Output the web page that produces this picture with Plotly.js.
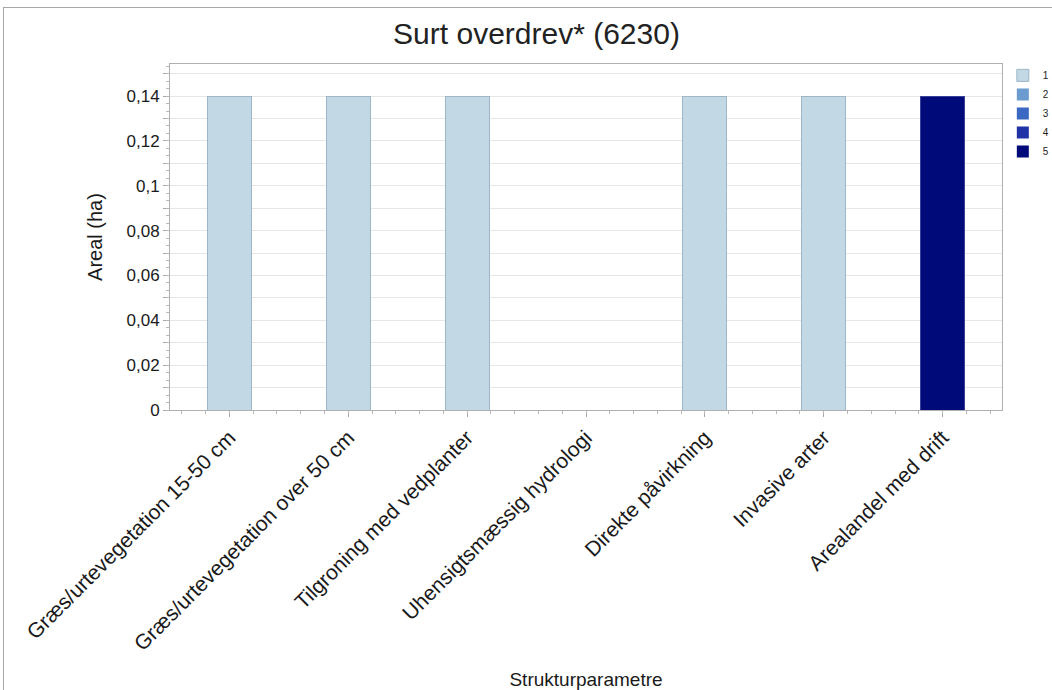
<!DOCTYPE html>
<html>
<head>
<meta charset="utf-8">
<script src="https://cdn.plot.ly/plotly-3.0.1.min.js"></script>
<style>
    body { margin: 0; background: #fff; }
    #chart { width: 1052px; height: 690px; }
    #frame { position: absolute; left: 3px; top: 7px; width: 1060px; height: 700px;
             border-left: 1px solid #a8a8a8; border-top: 1px solid #a8a8a8; pointer-events: none; }
</style>
</head>
<body>
<div id="chart"></div>
<div id="frame"></div>
<script>
const categories = ['Græs/urtevegetation 15-50 cm', 'Græs/urtevegetation over 50 cm', 'Tilgroning med vedplanter',
    'Uhensigtsmæssig hydrologi', 'Direkte påvirkning', 'Invasive arter', 'Arealandel med drift'];
const seriesNames = ['1', '2', '3', '4', '5'];
const s1 = [0.14, 0.14, 0.14, 0, 0.14, 0.14, 0];
const s2 = [0, 0, 0, 0, 0, 0, 0];
const s3 = [0, 0, 0, 0, 0, 0, 0];
const s4 = [0, 0, 0, 0, 0, 0, 0];
const s5 = [0, 0, 0, 0, 0, 0, 0.14];

const fills = ['#c3d8e5', '#6b9bcf', '#3b68c2', '#1f33a6', '#000a78'];
const edges = ['#9db6c8', '#5a88bb', '#2f58ad', '#192b8f', '#3a3f98'];

var CHART = document.getElementById('chart');

var traces = [s1, s2, s3, s4, s5].map(function(vals, i){
    return {
        x: categories,
        y: vals,
        type: 'bar',
        name: seriesNames[i],
        marker: {
            color: fills[i],
            // no outline on empty segments, otherwise they show as a line on top of the stack
            line: {color: edges[i], width: vals.map(function(v){ return v ? 1 : 0; })},
        },
        hoverinfo: 'x+y+name',
    };
});

// empty trace so the overlay axes with the small ticks get drawn
traces.push({x: [], y: [], type: 'scatter', xaxis: 'x2', yaxis: 'y2', showlegend: false, hoverinfo: 'skip'});

var layout = {
    barmode: 'stack',
    bargap: 0.63,
    separators: ',.',
    width: 1052,
    height: 690,
    paper_bgcolor: '#fff',
    plot_bgcolor: '#fff',
    font: {family: 'Liberation Sans, Arial, sans-serif', color: '#1a1a1a', size: 16},
    title: {
        text: 'Surt overdrev* (6230)',
        font: {size: 30, color: '#222'},
        x: 0.51, xanchor: 'center',
        y: 0.951, yanchor: 'middle',
    },
    margin: {l: 170, r: 50, t: 64, b: 280, autoexpand: false},
    showlegend: true,
    legend: {
        x: 1.001, xanchor: 'left',
        y: 1.009, yanchor: 'top',
        font: {size: 10, color: '#222'},
        itemwidth: 30,
        tracegroupgap: 0,
        traceorder: 'normal',
    },
    xaxis: {
        type: 'category',
        tickangle: -45,
        ticks: 'outside',
        ticklen: 6,
        tickcolor: '#a8a8a8',
        showline: true,
        mirror: true,
        linecolor: '#b0b0b0',
        showgrid: false,
        tickfont: {size: 21},
        title: {text: 'Strukturparametre', font: {size: 19}, standoff: 19},
    },
    xaxis2: {
        type: 'linear',
        overlaying: 'x',
        anchor: 'y',
        side: 'bottom',
        range: [-0.5, 6.5],
        tick0: 0,
        dtick: 0.2,
        ticks: 'outside',
        ticklen: 3,
        tickcolor: '#b8b8b8',
        showticklabels: false,
        showgrid: false,
        zeroline: false,
        showline: false,
    },
    yaxis: {
        range: [0, 0.1543],
        dtick: 0.02,
        ticks: 'outside',
        ticklen: 6,
        tickcolor: '#a8a8a8',
        showline: true,
        mirror: true,
        linecolor: '#b0b0b0',
        gridcolor: '#e6e6e6',
        zeroline: false,
        tickfont: {size: 17},
        minor: {dtick: 0.01, showgrid: true, gridcolor: '#e6e6e6', ticks: 'outside', ticklen: 6, tickcolor: '#a8a8a8'},
        title: {text: 'Areal (ha)', font: {size: 20}, standoff: 18},
    },
    yaxis2: {
        overlaying: 'y',
        anchor: 'x',
        side: 'left',
        range: [0, 0.1543],
        tick0: 0,
        dtick: 0.01 / 3,
        ticks: 'outside',
        ticklen: 3,
        tickcolor: '#b8b8b8',
        showticklabels: false,
        showgrid: false,
        zeroline: false,
        showline: false,
    },
};

var config = {displayModeBar: false, responsive: false};

Plotly.newPlot(CHART, traces, layout, config);
</script>
</body>
</html>
